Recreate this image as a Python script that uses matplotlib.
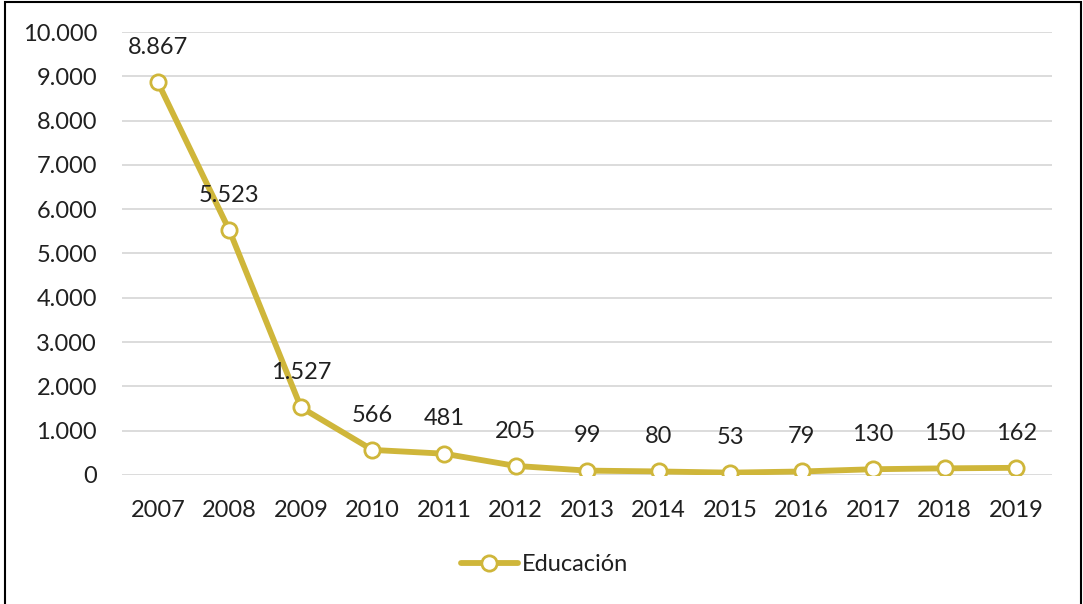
import numpy as np
import matplotlib.pyplot as plt
from matplotlib.patches import Rectangle
from matplotlib.ticker import FuncFormatter

years = ["2007", "2008", "2009", "2010", "2011", "2012", "2013",
         "2014", "2015", "2016", "2017", "2018", "2019"]
educacion = [8867, 5523, 1527, 566, 481, 205, 99, 80, 53, 79, 130, 150, 162]

plt.rcParams['font.family'] = ['Lato', 'DejaVu Sans']

line_color = '#CFB63A'
text_color = '#202020'

def miles(v, pos=None):
    # thousands separated with a dot
    return f"{int(round(v)):,}".replace(",", ".")

fig = plt.figure(figsize=(10.83, 6.04), dpi=100)
ax = fig.add_axes([0.1127, 0.2136, 0.8587, 0.7334])

x = np.arange(len(years))
ax.plot(x, educacion, color=line_color, lw=4.2, marker='o', ms=11,
        mfc='white', mec=line_color, mew=2, label='Educación', zorder=3,
        solid_capstyle='round')

for xi, v in zip(x, educacion):
    ax.annotate(miles(v), (xi, v), xytext=(0, 25), textcoords='offset points',
                ha='center', va='center', fontsize=17, color=text_color)

ax.set_xlim(-0.5, len(years) - 0.5)
ax.set_ylim(0, 10000)
ax.set_yticks(np.arange(0, 10001, 1000))
ax.yaxis.set_major_formatter(FuncFormatter(miles))
ax.set_xticks(x)
ax.set_xticklabels(years)
ax.grid(axis='y', color='#D9D9D9', lw=1.3)
ax.set_axisbelow(True)
for s in ax.spines.values():
    s.set_visible(False)
ax.tick_params(length=0, labelsize=17, labelcolor=text_color)
ax.tick_params(axis='x', pad=18)
ax.tick_params(axis='y', pad=18)

fig.legend(loc='center', bbox_to_anchor=(0.503, 0.065), frameon=False,
           fontsize=17, handlelength=2.4, handletextpad=0.2,
           labelcolor=text_color)

fig.patches.append(Rectangle((0.005, -0.01), 0.993, 1.007, transform=fig.transFigure,
                             fill=False, ec='black', lw=1.5))

fig.savefig('out.png', dpi=100)
